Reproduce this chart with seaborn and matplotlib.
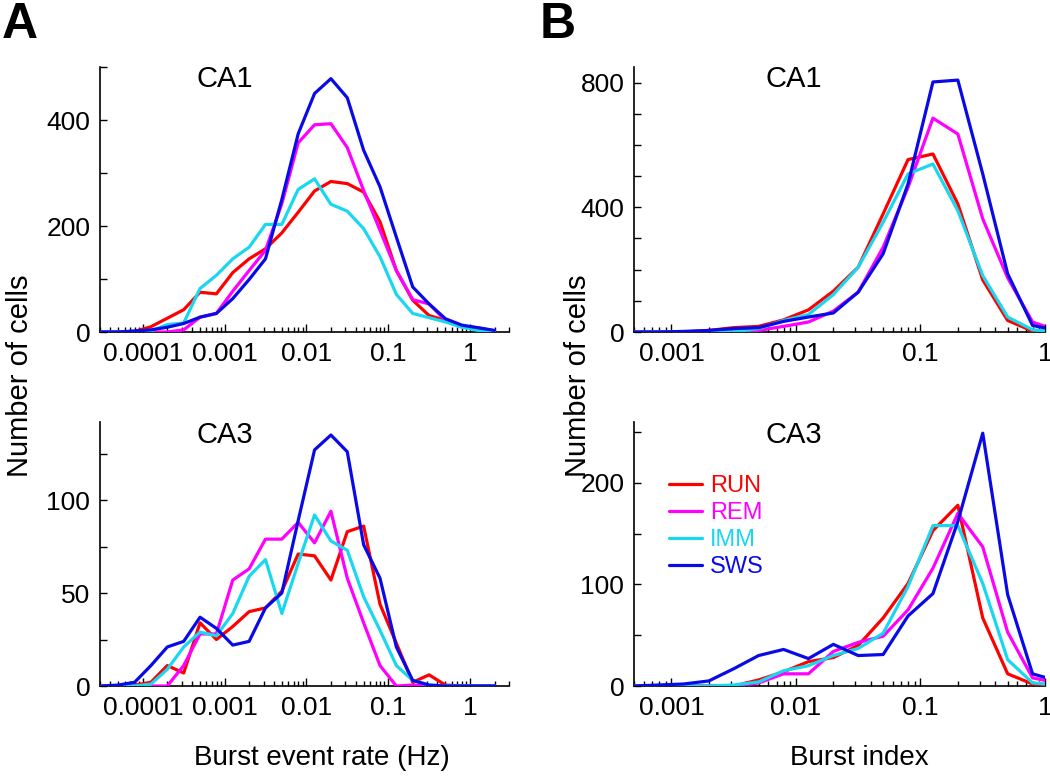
import numpy as np
import pandas as pd
import matplotlib
matplotlib.use("Agg")
import matplotlib.pyplot as plt
import seaborn as sns
from matplotlib.ticker import FixedLocator, LogLocator, NullFormatter

sns.set_style("ticks")
plt.rcParams["font.family"] = ["Liberation Sans", "DejaVu Sans"]
plt.rcParams["text.color"] = "black"
plt.rcParams["axes.labelcolor"] = "black"
plt.rcParams["xtick.color"] = "black"
plt.rcParams["ytick.color"] = "black"

# bin centres (log10)
rate_log = [-4.5, -4.3, -4.1, -3.9, -3.7, -3.5, -3.3, -3.1, -2.9, -2.7, -2.5, -2.3, -2.1,
            -1.9, -1.7, -1.5, -1.3, -1.1, -0.9, -0.7, -0.5, -0.3, -0.1, 0.1, 0.3]
index_log = [-3.3, -3.1, -2.9, -2.7, -2.5, -2.3, -2.1, -1.9, -1.7, -1.5, -1.3, -1.1,
             -0.9, -0.7, -0.5, -0.3, -0.1, 0.1]

states = ["RUN", "REM", "IMM", "SWS"]
colors = ["#ff0000", "#ff00ff", "#1ad7f0", "#0a0ae6"]

# A / CA1 : burst event rate
ca1_rate = {
    "RUN": [0, 0, 1, 10, 26, 42, 75, 72, 112, 138, 157, 187, 226, 266, 284, 280, 264, 208, 116, 60, 31, 22, 11, 6, 2],
    "REM": [0, 0, 0, 0, 0, 4, 28, 35, 77, 116, 154, 242, 357, 391, 393, 348, 267, 192, 116, 61, 53, 22, 11, 8, 2],
    "IMM": [0, 0, 0, 2, 14, 17, 82, 107, 138, 160, 203, 203, 269, 289, 241, 228, 195, 142, 71, 35, 27, 19, 9, 3, 1],
    "SWS": [0, 0, 2, 4, 9, 16, 28, 35, 63, 99, 138, 250, 374, 450, 478, 442, 343, 274, 179, 85, 53, 25, 13, 8, 3],
}
# A / CA3 : burst event rate
ca3_rate = {
    "RUN": [0, 0, 0.5, 2, 11, 7, 34, 25, 32, 40, 42, 51, 71, 70, 57, 83, 86, 44, 23, 2, 6, 0.5, 0, 0, 0],
    "REM": [0, 0, 0, 0, 0, 11, 28, 28, 57, 63, 79, 79, 88, 77, 94, 58, 34, 11, 0, 0.5, 0, 0, 0, 0, 0],
    "IMM": [0, 0, 0, 1, 9, 21, 29, 27, 39, 59, 68, 39, 66, 92, 78, 73, 48, 30, 11, 3, 0.5, 0, 0, 0, 0],
    "SWS": [0, 0.5, 2, 11, 21, 24, 37, 31, 22, 24, 42, 50, 89, 127, 135, 126, 76, 58, 21, 3, 0.5, 0, 0, 0, 0],
}
# B / CA1 : burst index
ca1_index = {
    "RUN": [0, 0, 0, 5, 14, 18, 39, 71, 131, 208, 379, 553, 571, 411, 167, 37, 3, 0],
    "REM": [0, 0, 0, 0, 0, 5, 18, 32, 67, 128, 272, 464, 686, 635, 363, 174, 32, 4],
    "IMM": [0, 0, 0, 0, 0, 11, 37, 56, 120, 208, 352, 507, 539, 389, 181, 48, 7, 0],
    "SWS": [0, 0, 2, 5, 11, 14, 34, 48, 61, 128, 251, 475, 802, 808, 507, 187, 21, 5],
}
# B / CA3 : burst index
ca3_index = {
    "RUN": [0, 0, 0, 0, 0, 6, 14, 24, 28, 40, 67, 101, 153, 178, 67, 12, 2, 1],
    "REM": [0, 0, 0, 0, 0, 3, 12, 12, 34, 43, 49, 75, 116, 170, 137, 53, 8, 3],
    "IMM": [0, 0, 0, 0, 1, 4, 15, 20, 30, 37, 52, 98, 158, 158, 101, 26, 3, 1],
    "SWS": [0, 1, 2, 5, 17, 30, 36, 27, 41, 30, 31, 69, 91, 162, 249, 90, 12, 5],
}

rate_ticks = [0.0001, 0.001, 0.01, 0.1, 1]
rate_labels = ["0.0001", "0.001", "0.01", "0.1", "1"]
index_ticks = [0.001, 0.01, 0.1, 1]
index_labels = ["0.001", "0.01", "0.1", "1"]

fig = plt.figure(figsize=(10.5, 7.77), dpi=100)
W, H = 1050, 777


def make_ax(l, t, r, b):
    return fig.add_axes([l / W, 1 - b / H, (r - l) / W, (b - t) / H])


ax_a1 = make_ax(100, 67, 509, 332)
ax_a3 = make_ax(100, 422, 509, 686)
ax_b1 = make_ax(634, 67, 1045, 332)
ax_b3 = make_ax(634, 422, 1045, 686)

panels = [
    (ax_a1, rate_log, ca1_rate, "CA1", (3e-5, 3), (0, 500), [0, 200, 400], [100, 300, 500], rate_ticks, rate_labels, (0.235, 0.955)),
    (ax_a3, rate_log, ca3_rate, "CA3", (3e-5, 3), (0, 142), [0, 50, 100], [25, 75, 125], rate_ticks, rate_labels, (0.235, 0.95)),
    (ax_b1, index_log, ca1_index, "CA1", (5e-4, 1), (0, 850), [0, 400, 800], [100, 200, 300, 500, 600, 700], index_ticks, index_labels, (0.32, 0.955)),
    (ax_b3, index_log, ca3_index, "CA3", (5e-4, 1), (0, 260), [0, 100, 200], [50, 150, 250], index_ticks, index_labels, (0.32, 0.95)),
]

for ax, xs_log, data, title, xlim, ylim, yt, ymt, xt, xtl, tpos in panels:
    ax.set_xscale("log")
    x = 10.0 ** np.array(xs_log)
    for st, col in zip(states, colors):
        sns.lineplot(x=x, y=data[st], color=col, lw=2.3, label=st, ax=ax, zorder=3)
    ax.set_xlim(*xlim)
    ax.set_ylim(*ylim)
    ax.xaxis.set_major_locator(FixedLocator(xt))
    ax.set_xticklabels(xtl)
    ax.xaxis.set_minor_locator(LogLocator(base=10, subs=np.arange(2, 10), numticks=20))
    ax.xaxis.set_minor_formatter(NullFormatter())
    ax.yaxis.set_major_locator(FixedLocator(yt))
    ax.yaxis.set_minor_locator(FixedLocator(ymt))
    ax.tick_params(axis="both", which="both", direction="in", width=1.0, colors="black",
                   labelsize=19, pad=7)
    ax.tick_params(axis="x", which="major", length=6)
    ax.tick_params(axis="x", which="minor", length=3.5)
    ax.tick_params(axis="y", which="both", length=5)
    for sp in ["top", "right"]:
        ax.spines[sp].set_visible(False)
    for sp in ["left", "bottom"]:
        ax.spines[sp].set_color("black")
        ax.spines[sp].set_linewidth(1.2)
    ax.text(tpos[0], tpos[1], title, transform=ax.transAxes,
            fontsize=21, ha="left", va="center")
    ax.set_xlabel("")
    ax.set_ylabel("")
    if ax.get_legend() is not None:
        ax.get_legend().remove()

leg = ax_b3.legend(loc="upper left", bbox_to_anchor=(0.085, 0.80), frameon=False, fontsize=17,
                   labelcolor="linecolor", handlelength=1.4, handletextpad=0.35,
                   labelspacing=0.22, borderpad=0, borderaxespad=0)
for h in leg.get_lines():
    h.set_linewidth(2.3)

ax_a3.set_xlabel("Burst event rate (Hz)", fontsize=20)
ax_a3.xaxis.set_label_coords(0.543, -0.225)
ax_b3.set_xlabel("Burst index", fontsize=20)
ax_b3.xaxis.set_label_coords(0.547, -0.225)

fig.text(20 / W, 1 - 376 / H, "Number of cells", rotation=90, fontsize=21, ha="center", va="center")
fig.text(578 / W, 1 - 376 / H, "Number of cells", rotation=90, fontsize=21, ha="center", va="center")

fig.text(2 / W, 1 - 2 / H, "A", fontsize=36, fontweight="bold", ha="left", va="top")
fig.text(540 / W, 1 - 2 / H, "B", fontsize=36, fontweight="bold", ha="left", va="top")

fig.savefig("out.png", dpi=100)
